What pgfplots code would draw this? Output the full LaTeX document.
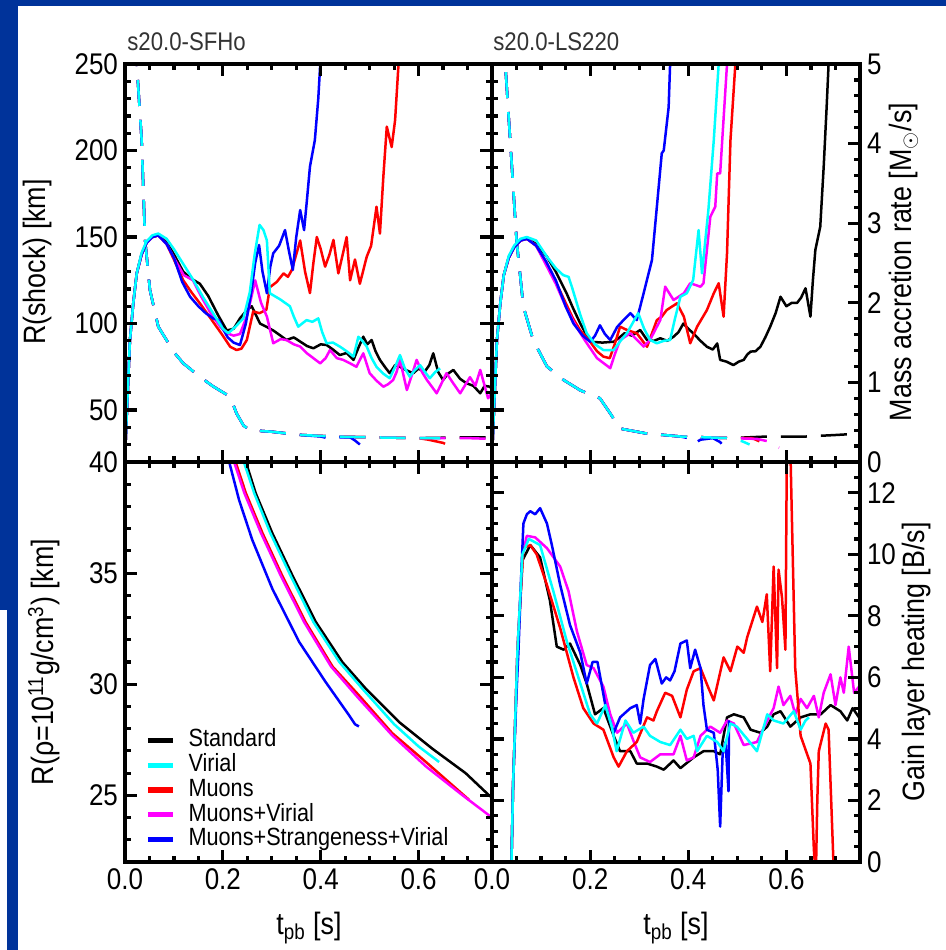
\documentclass[border=0pt]{standalone}
\usepackage{fontspec}
\setmainfont{Liberation Sans}[FakeStretch=0.87]
\usepackage{pgfplots}
\pgfplotsset{compat=1.18}
\definecolor{slideblue}{HTML}{00339A}
\definecolor{titlegray}{HTML}{333333}
\definecolor{cstd}{RGB}{0,0,0}
\definecolor{cvir}{RGB}{0,255,255}
\definecolor{cmu}{RGB}{255,0,0}
\definecolor{cmuvir}{RGB}{255,0,255}
\definecolor{cstr}{RGB}{0,0,255}

\pgfplotsset{
  panel/.style={
    scale only axis, width=183.5bp, height=199bp,
    xmin=0, xmax=0.75, axis on top,
    axis line style={line width=1.6bp},
    every tick/.style={black, line width=1.6bp},
    tick align=inside,
    major tick length=6bp, minor tick length=3.2bp,
    xtick={0,0.2,0.4,0.6}, minor x tick num=3,
    xtick pos=both,
    xticklabels={},
    tick label style={font=\fontsize{15}{15}\selectfont},
  },
  ln/.style={#1, line width=1.25bp, line join=round},
  dl/.style={#1, line width=1.25bp, dash pattern=on 13bp off 7bp},
}
\tikzset{tk/.style={black, line width=1.6bp}}

% inward tick marks along the frame (#1 = ymin, #2 = ymax of the axis)
\newcommand{\xtk}[2]{%
  \pgfplotsinvokeforeach{0,0.05,...,0.75}{\draw[tk] (axis cs:##1,#1) -- ++(0bp,3.2bp); \draw[tk] (axis cs:##1,#2) -- ++(0bp,-3.2bp);}%
  \pgfplotsinvokeforeach{0,0.2,0.4,0.6}{\draw[tk] (axis cs:##1,#1) -- ++(0bp,6bp); \draw[tk] (axis cs:##1,#2) -- ++(0bp,-6bp);}}
% left side ticks: #1 majors, #2 minors
\newcommand{\ytkL}[2]{%
  \pgfplotsinvokeforeach{#2}{\draw[tk] (axis cs:0,##1) -- ++(3.2bp,0bp);}%
  \pgfplotsinvokeforeach{#1}{\draw[tk] (axis cs:0,##1) -- ++(6bp,0bp);}}
% right side ticks
\newcommand{\ytkR}[2]{%
  \pgfplotsinvokeforeach{#2}{\draw[tk] (axis cs:0.75,##1) -- ++(-3.2bp,0bp);}%
  \pgfplotsinvokeforeach{#1}{\draw[tk] (axis cs:0.75,##1) -- ++(-6bp,0bp);}}

\begin{document}
\begin{tikzpicture}
% slide background
\fill[slideblue] (0bp,0bp) rectangle (473bp,475bp);
\fill[white] (9bp,0bp) rectangle (473bp,472bp);
\fill[white] (0bp,0bp) rectangle (3.5bp,170bp);

% ---------------- top left: mass accretion rate (dashed)
\begin{axis}[panel, at={(62.5bp,244bp)}, anchor=south west, hide axis, ymin=0, ymax=5]
\addplot[dl=cstd] coordinates {(0.020,5.3) (0.024,5.0) (0.034,4.05) (0.041,2.79) (0.051,2.16) (0.068,1.70) (0.085,1.53) (0.100,1.38) (0.119,1.24) (0.153,1.07) (0.180,0.95) (0.215,0.82) (0.228,0.61) (0.242,0.46) (0.255,0.40) (0.300,0.38) (0.358,0.34) (0.426,0.32) (0.500,0.31) (0.600,0.30) (0.700,0.31) (0.75,0.31)};
\addplot[dl=cmu] coordinates {(0.020,5.3) (0.024,5.0) (0.034,4.05) (0.041,2.79) (0.051,2.16) (0.068,1.70) (0.085,1.53) (0.100,1.38) (0.119,1.24) (0.153,1.07) (0.180,0.95) (0.215,0.82) (0.228,0.61) (0.242,0.46) (0.255,0.40) (0.300,0.38) (0.358,0.34) (0.426,0.32) (0.500,0.31) (0.600,0.30) (0.620,0.28) (0.650,0.24) (0.665,0.20) (0.675,0.18)};
\addplot[dl=cmuvir] coordinates {(0.020,5.3) (0.024,5.0) (0.034,4.05) (0.041,2.79) (0.051,2.16) (0.068,1.70) (0.085,1.53) (0.100,1.38) (0.119,1.24) (0.153,1.07) (0.180,0.95) (0.215,0.82) (0.228,0.61) (0.242,0.46) (0.255,0.40) (0.300,0.38) (0.358,0.34) (0.426,0.32) (0.500,0.31) (0.600,0.30) (0.700,0.30) (0.75,0.29)};
\addplot[dl=cstr] coordinates {(0.020,5.3) (0.024,5.0) (0.034,4.05) (0.041,2.79) (0.051,2.16) (0.068,1.70) (0.085,1.53) (0.100,1.38) (0.119,1.24) (0.153,1.07) (0.180,0.95) (0.215,0.82) (0.228,0.61) (0.242,0.46) (0.255,0.40) (0.300,0.38) (0.358,0.34) (0.400,0.32) (0.420,0.29) (0.440,0.31) (0.460,0.31) (0.470,0.27) (0.480,0.22)};
\addplot[dl=cvir] coordinates {(0.020,5.3) (0.024,5.0) (0.034,4.05) (0.041,2.79) (0.051,2.16) (0.068,1.70) (0.085,1.53) (0.100,1.38) (0.119,1.24) (0.153,1.07) (0.180,0.95) (0.215,0.82) (0.228,0.61) (0.242,0.46) (0.255,0.40) (0.300,0.38) (0.358,0.34) (0.426,0.32) (0.500,0.31) (0.600,0.30) (0.644,0.30)};
\end{axis}

% top left: s20.0-SFHo shock radius
\begin{axis}[panel, at={(62.5bp,244bp)}, anchor=south west,
    ymin=20, ymax=250, ytick={50,100,150,200,250},
    yticklabels={50,100,150,200,250}, minor y tick num=4, ytick pos=both]
\addplot[ln=cstd] coordinates {(0,22) (0.004,50) (0.010,90) (0.017,112) (0.024,129) (0.034,140) (0.044,146.6) (0.056,150) (0.068,151)
 (0.085,147) (0.100,140) (0.119,130) (0.135,126) (0.153,123) (0.170,116) (0.190,105) (0.208,96) (0.222,97) (0.235,103) (0.249,107.8) (0.259,110) (0.276,100) (0.290,98) (0.303,96) (0.318,93) (0.330,90.5) (0.345,92) (0.358,89.6) (0.372,87) (0.385,85.7) (0.400,88) (0.412,87.6) (0.425,85) (0.439,81.8) (0.453,83) (0.467,79) (0.477,86) (0.487,92.4) (0.495,88) (0.504,90.5) (0.512,84) (0.521,79) (0.531,75) (0.541,71.3) (0.552,76) (0.562,75) (0.575,73) (0.589,71.3) (0.600,74) (0.612,72) (0.622,76) (0.630,82.8) (0.640,72) (0.650,67.4) (0.660,71) (0.671,73.2) (0.685,68) (0.698,65.5) (0.712,64) (0.726,59.7) (0.735,64) (0.746,63.5) (0.75,62)};
\addplot[ln=cmu] coordinates {(0,22) (0.004,50) (0.010,90) (0.017,112) (0.024,129) (0.034,140) (0.044,146.6) (0.056,150) (0.068,151)
 (0.085,146) (0.100,137) (0.119,125) (0.136,118) (0.153,111.7) (0.170,105) (0.187,98.2) (0.200,93) (0.215,86.6) (0.228,84.7) (0.238,85.5) (0.249,90.5) (0.262,107) (0.275,106) (0.289,108) (0.296,121) (0.310,124) (0.324,129) (0.333,127) (0.341,131) (0.350,140) (0.358,148) (0.368,130) (0.378,117.6) (0.385,135) (0.392,150) (0.400,143) (0.409,132.9) (0.418,140) (0.426,148.3) (0.436,129) (0.445,140) (0.453,150) (0.460,125) (0.470,137) (0.480,123) (0.494,138.6) (0.503,145) (0.514,167.5) (0.521,152) (0.528,185) (0.535,213.8) (0.545,202) (0.552,217.6) (0.559,250) (0.562,260)};
\addplot[ln=cmuvir] coordinates {(0,22) (0.004,50) (0.010,90) (0.017,112) (0.024,129) (0.034,140) (0.044,146.6) (0.056,150) (0.068,151)
 (0.085,146) (0.100,138) (0.120,128) (0.139,125) (0.155,116) (0.175,106) (0.195,98) (0.2075,94.5) (0.222,93) (0.235,94) (0.250,105) (0.266,125) (0.278,112) (0.290,104) (0.303,88.6) (0.318,91) (0.330,90.5) (0.345,88) (0.358,86.7) (0.371,83) (0.385,80) (0.399,77) (0.410,80) (0.419,84.7) (0.433,80) (0.446,79) (0.460,77) (0.473,75) (0.480,79) (0.487,82.8) (0.500,71.3) (0.514,67) (0.528,63.5) (0.538,65) (0.548,67.4) (0.555,72) (0.562,79) (0.576,61.6) (0.586,70) (0.596,79) (0.607,72) (0.617,67.4) (0.637,59.7) (0.657,71.3) (0.672,65) (0.685,59.7) (0.705,69) (0.716,64) (0.726,73.2) (0.742,56.8) (0.75,60)};
\addplot[ln=cstr] coordinates {(0,22) (0.004,50) (0.010,90) (0.017,112) (0.024,129) (0.034,140) (0.044,146.6) (0.056,150) (0.068,151)
 (0.085,146) (0.100,138) (0.117,124) (0.133,115.5) (0.150,110) (0.165,106) (0.180,103) (0.192,102) (0.200,97) (0.210,92) (0.222,89) (0.235,87.6) (0.247,100) (0.258,118) (0.266,135) (0.274,145.4) (0.281,130) (0.290,117.5) (0.297,133) (0.303,140.6) (0.315,145) (0.327,154) (0.335,142) (0.343,131) (0.350,150) (0.358,165.6) (0.366,154) (0.372,172) (0.378,190.7) (0.388,206) (0.395,230) (0.399,250) (0.402,260)};
\addplot[ln=cvir] coordinates {(0,22) (0.004,50) (0.010,90) (0.017,112) (0.024,129) (0.034,141) (0.044,147.5) (0.056,151) (0.068,152)
 (0.085,149) (0.100,143) (0.120,134) (0.140,125) (0.160,115) (0.180,106) (0.200,97) (0.211,94.4) (0.225,98) (0.242,103) (0.255,118) (0.265,140) (0.275,157) (0.283,154) (0.290,148) (0.296,117.5) (0.305,116) (0.317,114) (0.327,112) (0.337,110) (0.345,104) (0.354,98.2) (0.362,100) (0.371,102) (0.383,101) (0.395,103) (0.403,95) (0.412,88.6) (0.425,89) (0.439,86.7) (0.453,84) (0.467,80.9) (0.477,92.4) (0.485,90) (0.494,86.7) (0.504,80) (0.514,75) (0.528,71) (0.541,68.4) (0.552,75) (0.562,81.8) (0.572,74) (0.582,69.3) (0.592,73) (0.603,76) (0.613,72) (0.623,68.4) (0.634,72) (0.644,74.1)};
\xtk{20}{250}
\ytkL{50,100,150,200,250}{20,30,...,250}
\ytkR{50,100,150,200,250}{20,30,...,250}
\end{axis}

% ---------------- top right: mass accretion rate with its own right axis
\begin{axis}[panel, at={(246bp,244bp)}, anchor=south west, width=184bp,
    xtick=\empty, ymin=0, ymax=5, ytick={0,1,2,3,4,5}, yticklabels={0,1,2,3,4,5},
    minor y tick num=4, ytick pos=right, yticklabel pos=right]
\addplot[dl=cstd] coordinates {(0.024,5.4) (0.027,5.0) (0.037,4.05) (0.050,2.79) (0.064,1.95) (0.084,1.53) (0.112,1.20) (0.146,1.03) (0.180,0.90) (0.220,0.80) (0.241,0.61) (0.261,0.42) (0.313,0.36) (0.384,0.32) (0.486,0.30) (0.560,0.32) (0.640,0.32) (0.703,0.34) (0.730,0.35)};
\addplot[dl=cmu] coordinates {(0.024,5.4) (0.027,5.0) (0.037,4.05) (0.050,2.79) (0.064,1.95) (0.084,1.53) (0.112,1.20) (0.146,1.03) (0.180,0.90) (0.220,0.80) (0.241,0.61) (0.261,0.42) (0.313,0.36) (0.384,0.32) (0.486,0.30) (0.530,0.30) (0.545,0.26)};
\addplot[dl=cmuvir] coordinates {(0.024,5.4) (0.027,5.0) (0.037,4.05) (0.050,2.79) (0.064,1.95) (0.084,1.53) (0.112,1.20) (0.146,1.03) (0.180,0.90) (0.220,0.80) (0.241,0.61) (0.261,0.42) (0.313,0.36) (0.384,0.32) (0.486,0.30) (0.540,0.29) (0.570,0.25) (0.585,0.18)};
\addplot[dl=cstr] coordinates {(0.024,5.4) (0.027,5.0) (0.037,4.05) (0.050,2.79) (0.064,1.95) (0.084,1.53) (0.112,1.20) (0.146,1.03) (0.180,0.90) (0.220,0.80) (0.241,0.61) (0.261,0.42) (0.313,0.36) (0.384,0.32) (0.400,0.30) (0.411,0.23) (0.425,0.28) (0.450,0.30) (0.465,0.25) (0.475,0.18)};
\addplot[dl=cvir] coordinates {(0.024,5.4) (0.027,5.0) (0.037,4.05) (0.050,2.79) (0.064,1.95) (0.084,1.53) (0.112,1.20) (0.146,1.03) (0.180,0.90) (0.220,0.80) (0.241,0.61) (0.261,0.42) (0.313,0.36) (0.384,0.32) (0.486,0.30) (0.510,0.26) (0.525,0.22)};
\ytkR{0,1,2,3,4,5}{0,0.2,...,5}
\end{axis}

% top right: s20.0-LS220 shock radius
\begin{axis}[panel, at={(246bp,244bp)}, anchor=south west, width=184bp,
    ymin=20, ymax=250, ytick={50,100,150,200,250}, yticklabels={},
    minor y tick num=4, ytick pos=left]
\addplot[ln=cstd] coordinates {(0,22) (0.004,50) (0.010,90) (0.017,112) (0.024,128) (0.034,138) (0.045,144) (0.058,148) (0.071,149)
 (0.090,146) (0.112,138.6) (0.130,130) (0.152,117.5) (0.165,109) (0.180,100) (0.200,89.5) (0.225,89) (0.248,89.5) (0.260,92) (0.270,94.4) (0.285,93) (0.302,96.3) (0.316,90.5) (0.330,90) (0.343,91.5) (0.357,90) (0.370,92.4) (0.380,95) (0.390,100) (0.400,97) (0.410,94.4) (0.425,90) (0.438,86.6) (0.450,85) (0.459,88.5) (0.465,79) (0.478,78) (0.492,76) (0.503,78) (0.513,79) (0.520,82) (0.527,83.8) (0.537,84) (0.547,86.6) (0.557,92) (0.567,98.2) (0.578,106) (0.588,115.5) (0.600,110) (0.611,112) (0.622,112) (0.630,115) (0.639,120.4) (0.649,104) (0.654,125) (0.659,142.5) (0.669,156) (0.676,190.6) (0.682,225) (0.686,250) (0.688,260)};
\addplot[ln=cmu] coordinates {(0,22) (0.004,50) (0.010,90) (0.017,112) (0.024,128) (0.034,138) (0.045,144) (0.058,148) (0.071,149)
 (0.090,145) (0.110,135) (0.130,124) (0.150,112) (0.165,103) (0.180,96) (0.200,89.5) (0.214,84) (0.227,80.9) (0.240,80) (0.250,88) (0.261,98.2) (0.275,96.3) (0.295,94.4) (0.316,86.6) (0.336,102) (0.346,104) (0.356,107.8) (0.377,111.7) (0.391,104) (0.404,88.6) (0.418,98.2) (0.438,107.8) (0.452,117.5) (0.462,123.3) (0.472,104) (0.479,140.6) (0.486,206) (0.496,250) (0.498,260)};
\addplot[ln=cmuvir] coordinates {(0,22) (0.004,50) (0.010,90) (0.017,112) (0.024,128) (0.034,138) (0.045,144) (0.058,148) (0.071,149)
 (0.090,145) (0.110,134) (0.130,123) (0.150,110) (0.170,99) (0.190,90) (0.214,80) (0.241,74.2) (0.250,82) (0.261,90.5) (0.282,94.4) (0.309,86.7) (0.322,90.5) (0.343,102) (0.353,121.3) (0.370,113.6) (0.391,117.5) (0.404,123.3) (0.425,121.3) (0.431,123.3) (0.445,161.8) (0.455,167.5) (0.459,186.8) (0.465,186.8) (0.479,250) (0.481,260)};
\addplot[ln=cstr] coordinates {(0,22) (0.004,50) (0.010,90) (0.017,112) (0.024,128) (0.034,138) (0.045,144) (0.058,148) (0.071,149)
 (0.090,145) (0.110,136) (0.130,125) (0.150,110) (0.166,100) (0.185,93) (0.200,89.5) (0.210,93) (0.220,99) (0.230,94) (0.241,90.5) (0.255,98) (0.268,102) (0.282,106) (0.295,102) (0.309,117.5) (0.326,136.7) (0.336,167.5) (0.346,198.4) (0.350,200) (0.360,225) (0.363,250) (0.365,260)};
\addplot[ln=cvir] coordinates {(0,22) (0.004,50) (0.010,90) (0.017,112) (0.024,128) (0.034,139) (0.045,145) (0.058,149) (0.071,150)
 (0.090,148) (0.112,138.6) (0.130,132) (0.145,128) (0.156,127) (0.163,121) (0.180,105) (0.193,94.4) (0.210,88) (0.227,84.7) (0.248,84.7) (0.262,90) (0.275,94.4) (0.298,106) (0.310,97) (0.322,90.5) (0.336,88.6) (0.350,90) (0.363,90.5) (0.373,103) (0.384,115.5) (0.397,117.5) (0.410,125.2) (0.421,154) (0.428,129) (0.441,165.6) (0.452,206) (0.462,250) (0.464,260)};
\xtk{20}{250}
\ytkL{50,100,150,200,250}{20,30,...,250}
\end{axis}

% ---------------- bottom left: R(rho=1e11)
\begin{axis}[panel, at={(62.5bp,44bp)}, anchor=south west, height=200bp,
    xticklabels={0.0,0.2,0.4,0.6},
    ymin=22, ymax=40, ytick={25,30,35,40}, yticklabels={25,30,35,40},
    minor y tick num=4, ytick pos=both,
    legend style={at={(axis description cs:0.055,0.335)}, anchor=north west,
      draw=none, fill=none, inner sep=0pt, outer sep=0pt,
      font=\fontsize{12.5}{12.5}\selectfont,
      nodes={inner sep=0.6bp, text height=8.8bp, text depth=2.4bp},
      /tikz/every odd column/.append style={column sep=6bp}},
    legend cell align=left,
    legend image code/.code={\draw[#1, line width=2.6bp] (0bp,0bp) -- (12.5bp,0bp);}]
\addplot[ln=cstd] coordinates {(0.240,41) (0.247,40) (0.267,38.6) (0.301,36.8) (0.342,34.9) (0.390,32.8) (0.444,31.0) (0.492,29.8) (0.560,28.3) (0.628,27.1) (0.696,26.0) (0.744,25.0) (0.75,24.9)};
\addlegendentry{Standard}
\addplot[ln=cvir] coordinates {(0.236,41) (0.243,40) (0.264,38.6) (0.297,36.8) (0.338,34.9) (0.385,32.8) (0.438,31.0) (0.485,29.8) (0.550,28.2) (0.600,27.2) (0.642,26.5)};
\addlegendentry{Virial}
\addplot[ln=cmu] coordinates {(0.219,41) (0.226,40) (0.247,38.6) (0.281,36.8) (0.321,34.9) (0.369,32.8) (0.424,30.8) (0.478,29.5) (0.546,27.8) (0.615,26.5) (0.703,24.8)};
\addlegendentry{Muons}
\addplot[ln=cmuvir] coordinates {(0.216,41) (0.223,40) (0.244,38.6) (0.278,36.8) (0.318,34.9) (0.366,32.8) (0.421,30.8) (0.476,29.4) (0.546,27.7) (0.615,26.3) (0.690,25.0) (0.744,24.1) (0.75,24.0)};
\addlegendentry{Muons+Virial}
\addplot[ln=cstr] coordinates {(0.206,41) (0.213,40) (0.233,38.3) (0.260,36.5) (0.301,34.3) (0.356,31.9) (0.410,30.1) (0.458,28.6) (0.470,28.2) (0.478,28.1)};
\addlegendentry{Muons+Strangeness+Virial}
\xtk{22}{40}
\ytkL{25,30,35,40}{22,23,...,40}
\ytkR{25,30,35,40}{22,23,...,40}
\end{axis}

% ---------------- bottom right: gain layer heating
\begin{axis}[panel, at={(246bp,44bp)}, anchor=south west, width=184bp, height=200bp,
    xticklabels={0.0,0.2,0.4,0.6},
    ymin=0, ymax=13, ytick={0,2,4,6,8,10,12}, yticklabels={0,2,4,6,8,10,12},
    minor y tick num=3, ytick pos=both, yticklabel pos=right]
\addplot[ln=cstd] coordinates {(0.039,-0.5) (0.043,2.5) (0.052,6.9) (0.062,9.8) (0.078,10.3) (0.098,9.9) (0.118,8.5) (0.132,7.0) (0.146,6.9) (0.159,7.1) (0.180,6.4) (0.193,5.8) (0.210,4.8) (0.227,5.0) (0.248,4.1) (0.261,3.6) (0.282,3.6) (0.295,3.2) (0.316,3.2) (0.336,3.1) (0.350,3.0) (0.370,3.3) (0.384,3.05) (0.411,3.4) (0.431,3.6) (0.452,3.6) (0.465,3.5) (0.479,4.7) (0.493,4.8) (0.513,4.7) (0.527,4.3) (0.547,4.2) (0.561,4.4) (0.574,4.8) (0.588,4.9) (0.608,4.4) (0.629,4.7) (0.649,4.8) (0.670,4.8) (0.690,5.1) (0.710,4.9) (0.724,4.6) (0.735,5.0) (0.748,4.7) (0.75,4.8)};
\addplot[ln=cmuvir] coordinates {(0.039,-0.5) (0.043,2.5) (0.052,6.9) (0.062,10.0) (0.071,10.6) (0.088,10.55) (0.112,10.2) (0.139,9.6) (0.156,8.8) (0.173,7.5) (0.193,6.4) (0.207,6.3) (0.227,5.7) (0.241,4.8) (0.255,4.2) (0.275,4.5) (0.288,3.95) (0.302,3.4) (0.322,3.25) (0.343,3.5) (0.370,3.5) (0.384,4.1) (0.397,3.3) (0.411,3.4) (0.425,4.1) (0.445,4.4) (0.465,4.2) (0.479,4.6) (0.493,4.5) (0.513,3.8) (0.540,3.9) (0.561,4.6) (0.574,5.0) (0.584,5.7) (0.594,5.1) (0.608,5.4) (0.618,4.8) (0.629,5.3) (0.642,5.0) (0.656,5.4) (0.666,4.7) (0.676,5.5) (0.690,6.1) (0.700,5.1) (0.710,6.0) (0.717,5.5) (0.727,7.0) (0.738,5.5) (0.748,5.7) (0.75,5.6)};
\addplot[ln=cmu] coordinates {(0.039,-0.5) (0.043,2.5) (0.052,6.9) (0.064,10.2) (0.078,10.3) (0.091,10.0) (0.112,9.0) (0.139,7.6) (0.166,6.0) (0.186,5.0) (0.207,4.5) (0.227,4.3) (0.248,3.4) (0.258,3.1) (0.275,3.6) (0.295,3.9) (0.316,4.7) (0.329,4.6) (0.336,4.9) (0.353,5.5) (0.367,5.4) (0.384,4.7) (0.397,5.6) (0.411,6.2) (0.425,6.3) (0.440,5.7) (0.452,5.25) (0.472,6.65) (0.486,6.2) (0.500,7.0) (0.513,6.8) (0.520,7.3) (0.533,7.95) (0.540,8.3) (0.551,7.8) (0.560,8.7) (0.567,6.2) (0.574,9.6) (0.581,6.3) (0.584,9.5) (0.591,8.6) (0.598,6.9) (0.601,13.5) (0.608,13.5) (0.618,6.3) (0.629,4.1) (0.649,3.2) (0.656,0.4) (0.660,-0.5) (0.663,2.0) (0.666,3.6) (0.680,4.5) (0.686,4.3) (0.697,-0.5)};
\addplot[ln=cstr] coordinates {(0.039,-0.5) (0.043,2.6) (0.050,5.5) (0.054,6.9) (0.060,9.5) (0.064,11.0) (0.071,11.3) (0.078,11.4) (0.088,11.3) (0.098,11.5) (0.112,11.0) (0.122,10.3) (0.139,9.0) (0.159,7.7) (0.180,6.8) (0.193,5.8) (0.205,6.5) (0.215,6.5) (0.231,5.1) (0.248,4.2) (0.261,4.7) (0.282,5.0) (0.295,5.1) (0.302,4.5) (0.309,5.3) (0.322,6.4) (0.333,6.6) (0.346,5.8) (0.355,6.0) (0.363,5.9) (0.372,6.2) (0.384,7.1) (0.397,7.2) (0.404,6.3) (0.414,6.9) (0.425,6.3) (0.431,5.1) (0.438,4.3) (0.452,4.2) (0.460,3.0) (0.465,1.15) (0.470,3.5) (0.476,3.9) (0.482,2.3) (0.483,4.6)};
\addplot[ln=cvir] coordinates {(0.039,-0.5) (0.043,2.5) (0.052,6.9) (0.062,10.0) (0.075,10.5) (0.098,10.3) (0.125,8.8) (0.152,7.2) (0.180,5.8) (0.200,4.8) (0.214,4.5) (0.231,5.1) (0.244,4.4) (0.254,3.6) (0.272,4.6) (0.288,4.2) (0.309,4.4) (0.322,4.1) (0.343,3.9) (0.363,3.8) (0.384,4.3) (0.397,4.0) (0.411,4.1) (0.418,3.6) (0.438,4.1) (0.459,3.9) (0.472,3.6) (0.486,4.5) (0.499,4.4) (0.520,4.0) (0.540,3.6) (0.561,4.8) (0.574,4.6) (0.594,4.5) (0.615,4.9) (0.629,4.3) (0.639,4.6) (0.646,4.7)};
\xtk{0}{13}
\ytkL{0,2,4,6,8,10,12}{0,0.5,...,13}
\ytkR{0,2,4,6,8,10,12}{0,0.5,...,13}
\end{axis}

% titles and axis labels
\begin{scope}[every node/.style={font=\fontsize{15.5}{15.5}\selectfont, inner sep=0pt}]
\node[rotate=90] at (19bp,344bp) {R(shock) [km]};
\node[rotate=90] at (22bp,144bp) {R(ρ=10\textsuperscript{11}g/cm\textsuperscript{3}) [km]};
\node[rotate=90] at (452bp,344bp) {Mass accretion rate [M$_\odot$/s]};
\node[rotate=90] at (458.5bp,144bp) {Gain layer heating [B/s]};
\node at (154.5bp,11bp) {t\textsubscript{pb} [s]};
\node at (338bp,11bp) {t\textsubscript{pb} [s]};
\node[anchor=base west, text=titlegray, font=\fontsize{12.8}{12.8}\selectfont] at (63.5bp,449.5bp) {s20.0-SFHo};
\node[anchor=base west, text=titlegray, font=\fontsize{12.8}{12.8}\selectfont] at (246.5bp,449.5bp) {s20.0-LS220};
\end{scope}
\end{tikzpicture}
\end{document}
